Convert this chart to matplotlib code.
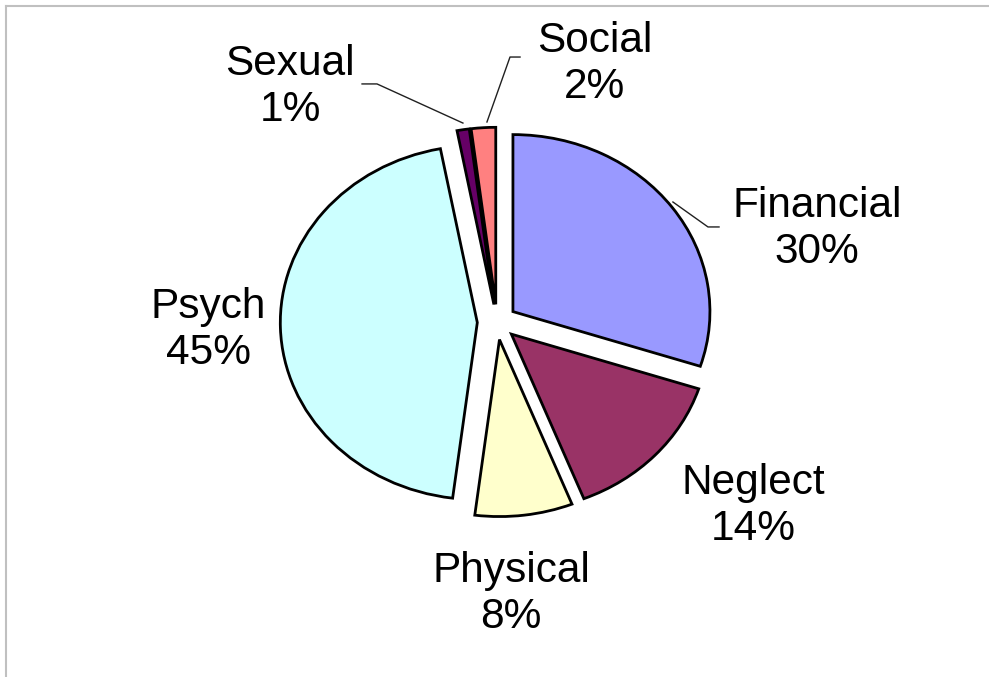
import numpy as np
import matplotlib.pyplot as plt

# dados do gráfico
categorias = ['Financial', 'Neglect', 'Physical', 'Psych', 'Sexual', 'Social']
percentuais = [30, 14, 8, 45, 1, 2]
cores = ['#9999FF', '#993366', '#FFFFCC', '#CCFFFF', '#660066', '#FF8080']

# posição dos rótulos (unidades do gráfico)
pos_rotulos = {
    'Financial': (1.624, 0.525),
    'Neglect': (1.30, -1.040),
    'Physical': (0.071, -1.537),
    'Psych': (-1.467, -0.046),
    'Sexual': (-1.051, 1.327),
    'Social': (0.497, 1.457),
}
# linhas de chamada
linhas = {
    'Sexual': [(-0.685, 1.345), (-0.609, 1.345), (-0.173, 1.124)],
    'Social': [(-0.051, 1.130), (0.066, 1.497), (0.117, 1.497)],
    'Financial': [(0.893, 0.678), (1.071, 0.537), (1.127, 0.537)],
}

plt.rcParams['font.family'] = ['Liberation Sans', 'DejaVu Sans']

W, H = 989, 677
fig = plt.figure(figsize=(W / 100, H / 100), dpi=100)
ax = fig.add_axes([0, 0, 1, 1])

# centro e raios em pixels (pizza levemente esticada na horizontal)
cx, cy, rx, ry = 497, 322, 197, 177

ax.pie(percentuais, colors=cores, startangle=90, counterclock=False,
       explode=[0.1] * len(percentuais),
       wedgeprops=dict(edgecolor='black', linewidth=2.0))

ax.set_aspect('auto')
ax.set_xlim(-cx / rx, (W - cx) / rx)
ax.set_ylim(-(H - cy) / ry, cy / ry)
ax.axis('off')

for cat, p in zip(categorias, percentuais):
    x, y = pos_rotulos[cat]
    ax.text(x, y, f'{cat}\n{p}%', ha='center', va='center', fontsize=30.5,
            linespacing=1.18)

for cat, pts in linhas.items():
    xs, ys = zip(*pts)
    ax.plot(xs, ys, color='#202020', linewidth=1.0)

# moldura cinza (só topo e esquerda aparecem)
fig.add_artist(plt.Line2D([6 / W, 1], [1 - 6 / H, 1 - 6 / H], color='#c0c0c0',
                          linewidth=1.5, transform=fig.transFigure))
fig.add_artist(plt.Line2D([6 / W, 6 / W], [0, 1 - 6 / H], color='#c0c0c0',
                          linewidth=1.5, transform=fig.transFigure))

fig.savefig('out.png', dpi=100)
